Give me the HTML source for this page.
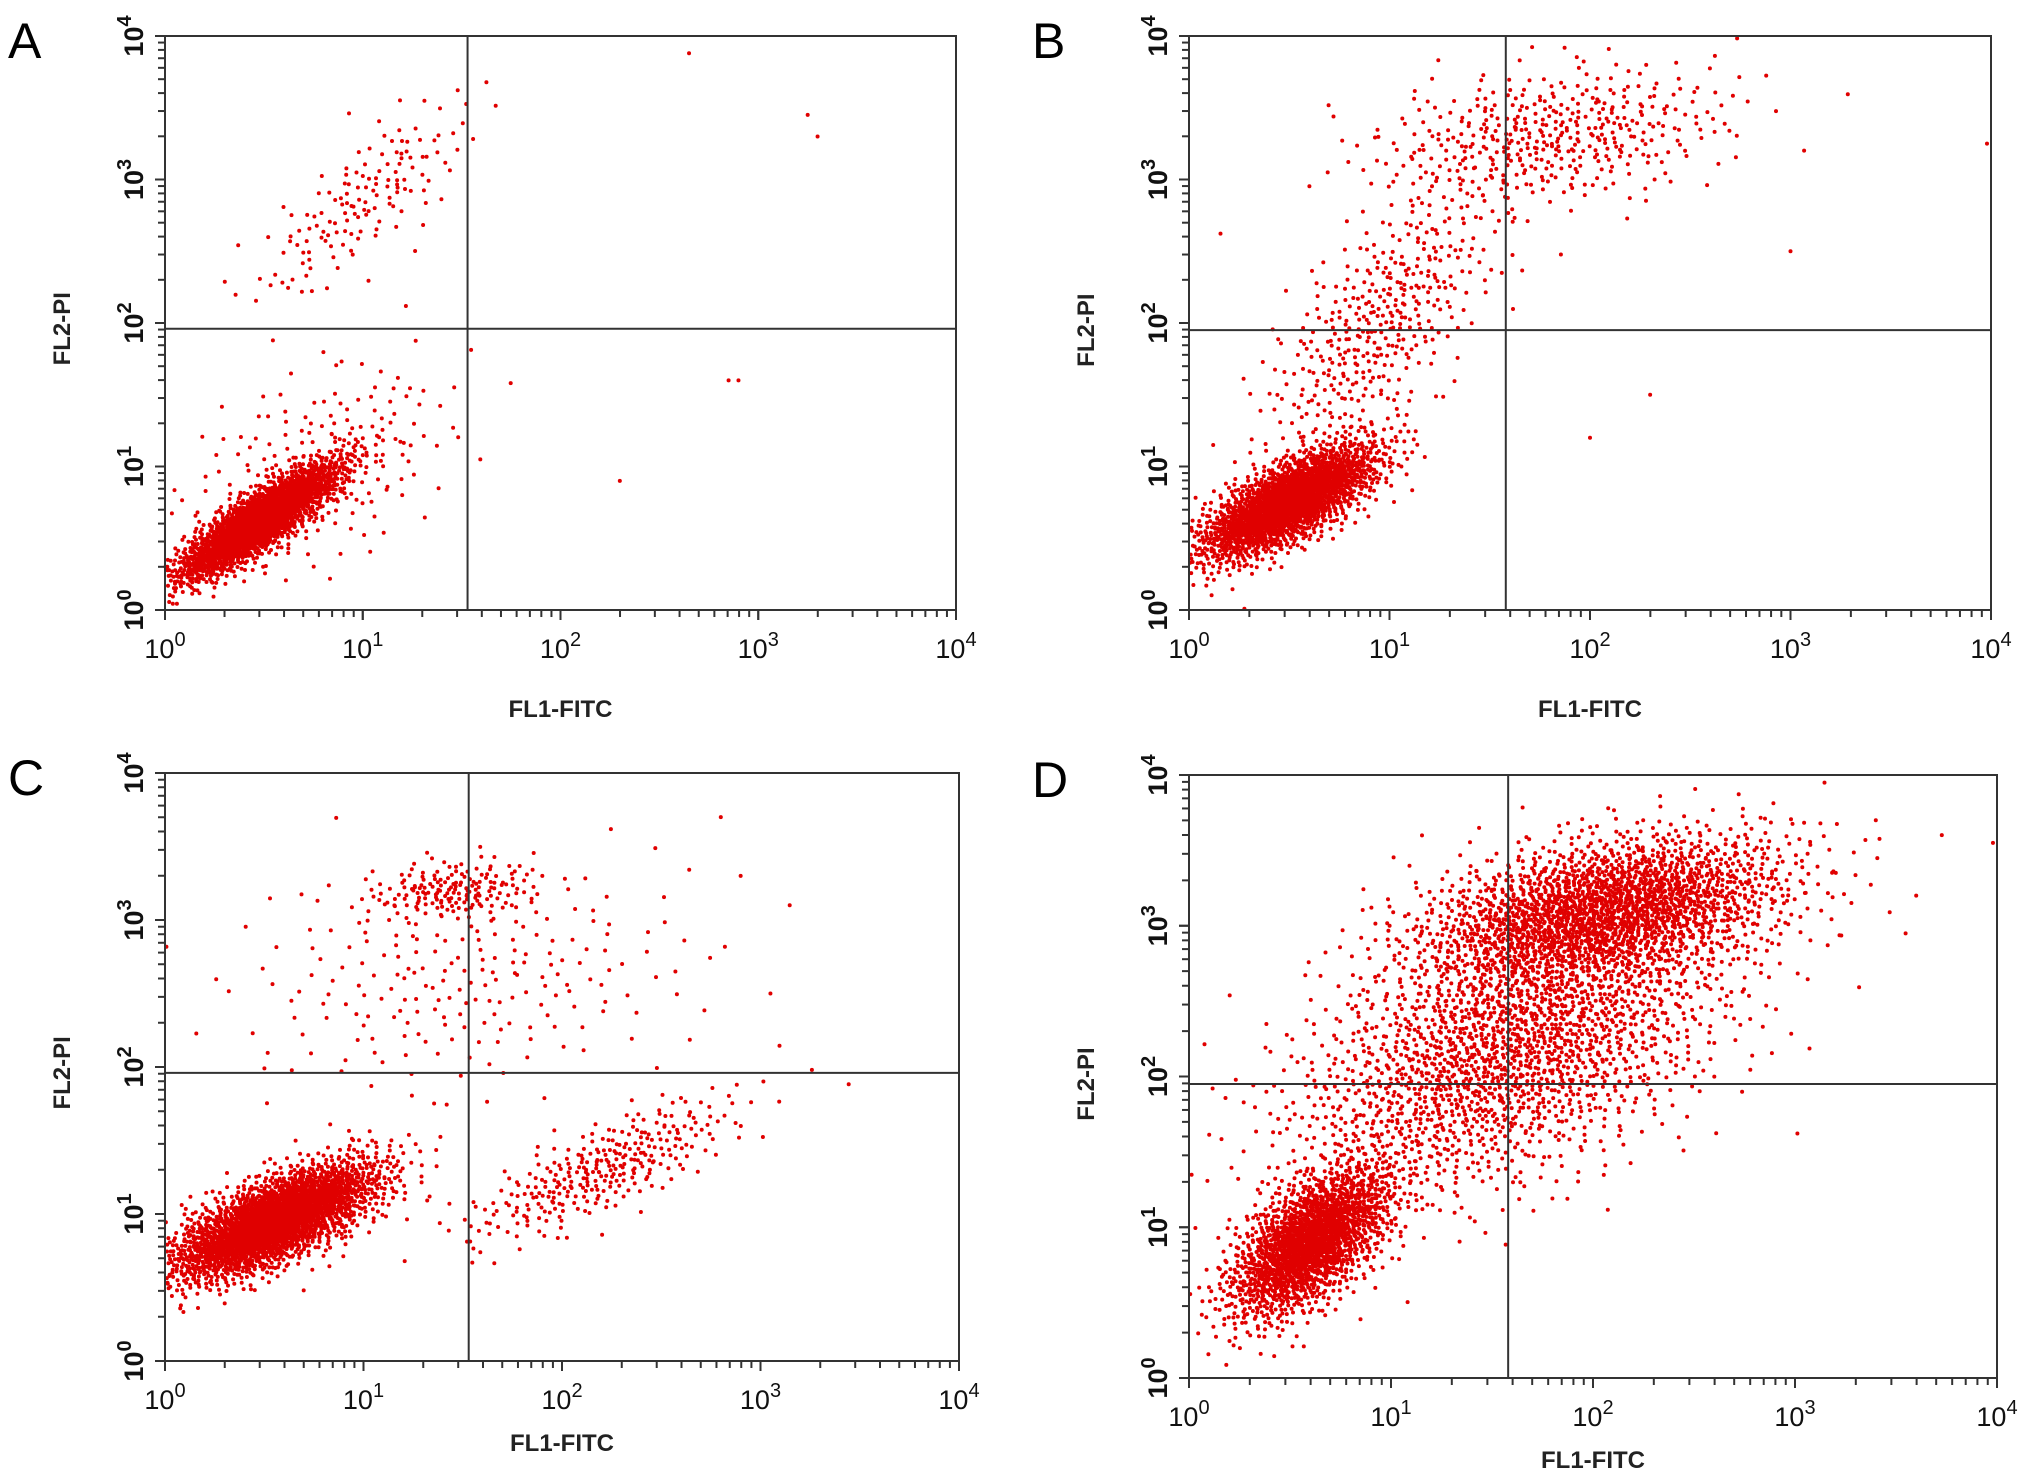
<!DOCTYPE html>
<html><head><meta charset="utf-8"><style>
html,body{margin:0;padding:0;background:#fff;}
body{width:2031px;height:1475px;overflow:hidden;font-family:"Liberation Sans",sans-serif;}
</style></head><body>
<svg id="fig" width="2031" height="1475" xmlns="http://www.w3.org/2000/svg"></svg>
<script>
// Panel labels and quadrant gates (log10 units)
const panelLabels = ["A","B","C","D"];
const gateX = [1.53, 1.58, 1.53, 1.58];
const gateY = [1.96, 1.95, 1.96, 1.95];
const tickExps = [0,1,2,3,4];
// clusters per panel: [centerLogX, centerLogY, sdX, sdY, rho, count]
const clustersA = [[0.48,0.62,0.2,0.2,0.86,2400],[0.75,0.95,0.35,0.4,0.5,220],[1.0,2.85,0.28,0.35,0.8,150]];
const clustersB = [[0.5,0.75,0.22,0.2,0.72,2200],[1.8,3.3,0.45,0.25,0.3,450],[0.95,2.0,0.3,0.5,0.7,420]];
const clustersC = [[0.55,0.95,0.26,0.2,0.7,2700],[1.45,3.2,0.22,0.1,0.2,170],[1.5,2.6,0.6,0.4,0.2,220],[2.2,1.3,0.35,0.25,0.8,320]];
const clustersD = [[0.6,0.9,0.2,0.25,0.6,1900],[2.05,3.1,0.45,0.25,0.4,2200],[1.6,2.2,0.55,0.5,0.5,2100]];
const outliersA = [[2.65,3.88],[3.25,3.45],[3.3,3.3],[2.85,1.6],[2.9,1.6],[2.3,0.9]];
const outliersB = [[3.98,3.25],[2.0,1.2],[2.3,1.5],[3.0,2.5]];
const outliersC = [[2.9,3.3],[2.8,3.7],[3.05,2.5]];
const outliersD = [[3.98,3.55],[3.6,3.2],[3.4,3.7]];
const clusters = [clustersA, clustersB, clustersC, clustersD];
const outliers = [outliersA, outliersB, outliersC, outliersD];
const boxes = [[165,36,956,610],[1189,36,1991,610],[165,773,959,1361],[1189,775,1997,1378]];

const NS="http://www.w3.org/2000/svg";
const svg=document.getElementById('fig');
function mk(tag,attrs,parent){const e=document.createElementNS(NS,tag);for(const k in attrs)e.setAttribute(k,attrs[k]);(parent||svg).appendChild(e);return e;}
function halton(i,b){let f=1,r=0;while(i>0){f/=b;r+=f*(i%b);i=Math.floor(i/b);}return r;}

boxes.forEach((bx,p)=>{
  const [L,T,R,B]=bx;
  const sx=v=>L+(R-L)*v/4, sy=v=>B-(B-T)*v/4;
  const g=mk('g',{});
  
  
  const lab=mk('text',{x:L-157,y:T+22,'font-size':50,fill:'#000'},g);
  lab.textContent=panelLabels[p];
  
  
  const pts=mk('g',{fill:'#e00000'},g);
  
  
  let idx=1+p*7919;
  clusters[p].forEach(c=>{
    const [cx,cy,dx,dy,rho,n]=c;
    for(let i=0;i<n;i++){
      idx++;
      const u1=Math.max(1e-6,halton(idx,2)),u2=halton(idx,3);
      const r=Math.sqrt(-2*Math.log(u1));
      const z1=r*Math.cos(2*Math.PI*u2), z2=r*Math.sin(2*Math.PI*u2);
      const lx=cx+dx*z1, ly=cy+dy*(rho*z1+Math.sqrt(1-rho*rho)*z2);
      if(lx<0||lx>4||ly<0||ly>4)continue;
      const d=mk('circle',{cx:sx(lx).toFixed(1),cy:sy(ly).toFixed(1),r:2},pts);
      
      
    }
  });
  outliers[p].forEach(o=>{
    const d=mk('circle',{cx:sx(o[0]),cy:sy(o[1]),r:2},pts);
    
    
  });
  const fr=mk('rect',{x:L,y:T,width:R-L,height:B-T,fill:'none',stroke:'#333','stroke-width':2},g);
  
  
  const vl=mk('line',{x1:sx(gateX[p]),x2:sx(gateX[p]),y1:T,y2:B,stroke:'#333','stroke-width':2},g);
  
  
  const hl=mk('line',{x1:L,x2:R,y1:sy(gateY[p]),y2:sy(gateY[p]),stroke:'#333','stroke-width':2},g);
  
  
  for(let e=0;e<4;e++){for(let m=1;m<=10;m++){const v=e+Math.log10(m);
    const big=(m===1||m===10);
    const tx=mk('line',{x1:sx(v),x2:sx(v),y1:B,y2:B+(big?10:7),stroke:'#333','stroke-width':2},g);
    
    const ty=mk('line',{x1:L,x2:L-(big?10:7),y1:sy(v),y2:sy(v),stroke:'#333','stroke-width':2},g);
    }}
  tickExps.forEach(e=>{
    const t=mk('text',{x:sx(e),y:B+48,'font-size':27,'text-anchor':'middle',fill:'#111'},g);
    t.innerHTML='10<tspan dy="-12" font-size="20">'+e+'</tspan>';
    
    const ty=mk('text',{x:0,y:0,'font-size':27,'font-weight':'bold','text-anchor':'middle',fill:'#111',transform:'translate('+(L-22)+','+sy(e)+') rotate(-90)'},g);
    ty.innerHTML='10<tspan dy="-12" font-size="20">'+e+'</tspan>';
    
  });
  const xt=mk('text',{x:(L+R)/2,y:B+(p<2?107:90),'font-size':24,'font-weight':'bold','text-anchor':'middle',fill:'#222'},g);
  xt.textContent='FL1-FITC';
  
  const yt=mk('text',{x:0,y:0,'font-size':24,'font-weight':'bold','text-anchor':'middle',fill:'#222',transform:'translate('+(L-95)+','+sy(gateY[p])+') rotate(-90)'},g);
  yt.textContent='FL2-PI';
  
});
</script>
</body></html>
